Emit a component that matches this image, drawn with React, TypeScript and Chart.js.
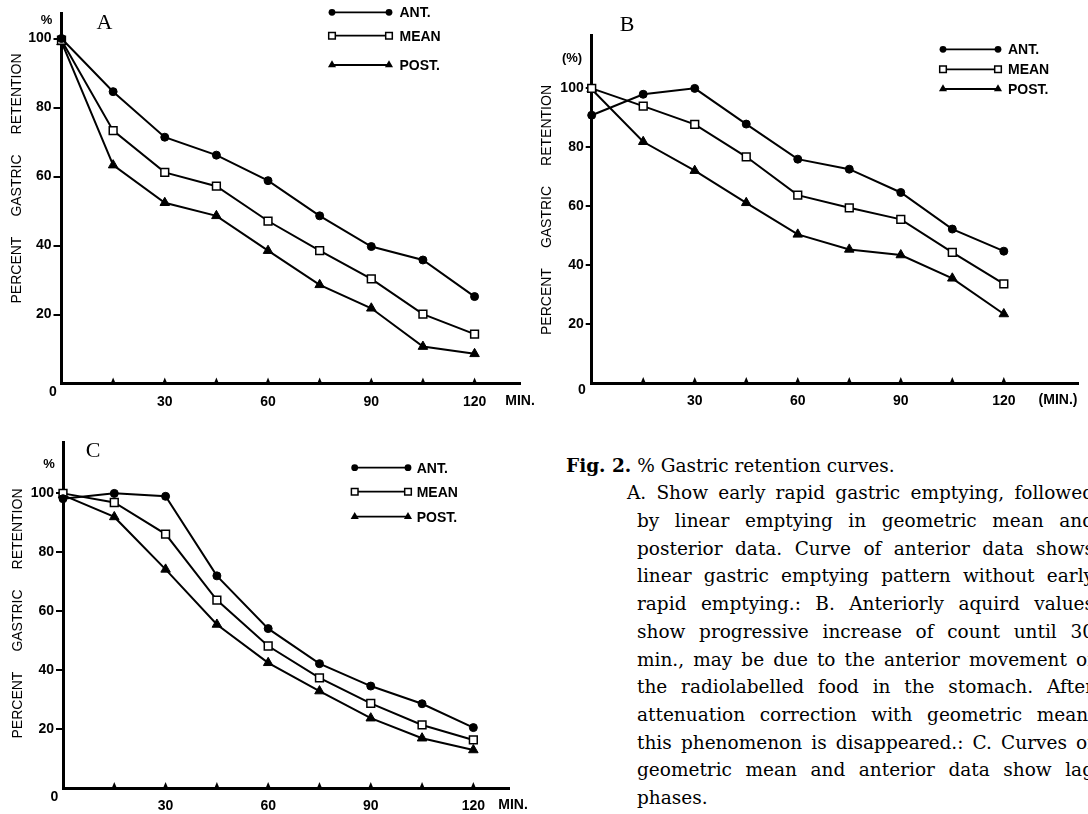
import React, { useEffect, useRef } from "react";
import { Chart, registerables } from "chart.js";

Chart.register(...registerables);

// ---------------- data ----------------
const minutes = [0, 15, 30, 45, 60, 75, 90, 105, 120];
const yTickValues = [20, 40, 60, 80, 100];
const xTickValues = [30, 60, 90, 120];
const xMinorTicks = [15, 30, 45, 60, 75, 90, 105, 120];
const seriesNames = ["ANT.", "MEAN", "POST."];

const antA = [100, 84.6, 71.4, 66.2, 58.8, 48.6, 39.7, 35.8, 25.2];
const meanA = [99.5, 73.3, 61.2, 57.2, 47.1, 38.5, 30.3, 20.1, 14.3];
const postA = [99, 63.3, 52.4, 48.6, 38.5, 28.6, 21.8, 10.7, 8.6];

const antB = [90.8, 97.9, 99.9, 87.8, 75.9, 72.5, 64.6, 52.2, 44.7];
const meanB = [99.9, 93.9, 87.7, 76.7, 63.7, 59.4, 55.5, 44.3, 33.6];
const postB = [99.6, 81.8, 72.0, 61.1, 50.4, 45.3, 43.4, 35.5, 23.4];

const antC = [98.2, 100, 99, 72, 54.1, 42.2, 34.6, 28.6, 20.5];
const meanC = [100, 96.9, 86.2, 63.8, 48.2, 37.4, 28.7, 21.4, 16.3];
const postC = [99.4, 92, 74.2, 55.5, 42.5, 32.9, 23.7, 16.9, 12.9];

const yTitleWords = ["PERCENT", "GASTRIC", "RETENTION"];

const captionHeadBold = "Fig. 2.";
const captionHead = "% Gastric retention curves.";
const captionLines = [
  "A. Show early rapid gastric emptying, followed",
  "by linear emptying in geometric mean and",
  "posterior data. Curve of anterior data shows",
  "linear gastric emptying pattern without early",
  "rapid emptying.: B. Anteriorly aquird values",
  "show progressive increase of count until 30",
  "min., may be due to the anterior movement of",
  "the radiolabelled food in the stomach. After",
  "attenuation correction with geometric mean,",
  "this phenomenon is disappeared.: C. Curves of",
  "geometric mean and anterior data show lag",
  "phases.",
];

// ---------------- styles / layout ----------------
const SANS = '"Liberation Sans", Arial, sans-serif';
const SERIF = '"Liberation Serif", "Times New Roman", serif';
const CAPTION_FONT = '"DejaVu Serif", serif';

type Pt = { x: number; y: number };
interface PanelDef {
  letter: string;
  series: number[][];
  box: { left: number; top: number; w: number; h: number };
  area: { l: number; t: number; r: number; b: number };
  xMax: number;
  yMax: number;
  tickLen: number;
  legend: { x1: number; x2: number; ys: number[]; textX: number };
  letterPos: Pt;
  pctText: string;
  pctPos: Pt;
  zeroPos: Pt;
  minText: string;
  minPos: Pt;
  title: { x: number; cy: number; gap: number };
}

const markerStyles = ["circle", "rect", "triangle"];
const markerRadius = [4, 5.5, 5.5];
const markerFill = ["#000", "#fff", "#000"];

const panels: PanelDef[] = [
  {
    letter: "A",
    series: [antA, meanA, postA],
    box: { left: 0, top: 0, w: 540, h: 410 },
    area: { l: 61.5, t: 13, r: 520, b: 383.5 },
    xMax: 133.2,
    yMax: 107.4,
    tickLen: 8,
    legend: { x1: 332, x2: 389, ys: [12.3, 35.7, 65], textX: 399.5 },
    letterPos: { x: 104.5, y: 23.5 },
    pctText: "%",
    pctPos: { x: 46.5, y: 20 },
    zeroPos: { x: 53, y: 392 },
    minText: "MIN.",
    minPos: { x: 520, y: 401 },
    title: { x: 16.7, cy: 178.5, gap: 20 },
  },
  {
    letter: "B",
    series: [antB, meanB, postB],
    box: { left: 540, top: 0, w: 548, h: 410 },
    area: { l: 591.7, t: 35, r: 1078, b: 383 },
    xMax: 141.6,
    yMax: 118,
    tickLen: 6,
    legend: { x1: 943, x2: 998, ys: [49.3, 69.3, 89], textX: 1008 },
    letterPos: { x: 627, y: 25.5 },
    pctText: "(%)",
    pctPos: { x: 572, y: 58 },
    zeroPos: { x: 582, y: 390 },
    minText: "(MIN.)",
    minPos: { x: 1058, y: 400 },
    title: { x: 547, cy: 210, gap: 20 },
  },
  {
    letter: "C",
    series: [antC, meanC, postC],
    box: { left: 0, top: 410, w: 540, h: 404 },
    area: { l: 63, t: 442.7, r: 509.6, b: 788 },
    xMax: 130.6,
    yMax: 117.2,
    tickLen: 7,
    legend: { x1: 354.7, x2: 408, ys: [467.7, 491.7, 516.7], textX: 416.7 },
    letterPos: { x: 93, y: 451.7 },
    pctText: "%",
    pctPos: { x: 49, y: 464 },
    zeroPos: { x: 54.5, y: 796.7 },
    minText: "MIN.",
    minPos: { x: 513, y: 805 },
    title: { x: 18, cy: 613.5, gap: 20 },
  },
];

function drawMarker(ctx: CanvasRenderingContext2D, idx: number, x: number, y: number, r: number) {
  const style = markerStyles[idx];
  ctx.save();
  ctx.beginPath();
  if (style === "circle") {
    ctx.arc(x, y, r, 0, Math.PI * 2);
    ctx.fillStyle = markerFill[idx];
    ctx.fill();
  } else if (style === "rect") {
    const s = r * Math.SQRT1_2;
    ctx.rect(x - s, y - s, 2 * s, 2 * s);
    ctx.fillStyle = markerFill[idx];
    ctx.fill();
    ctx.lineWidth = 1.5;
    ctx.strokeStyle = "#000";
    ctx.stroke();
  } else {
    ctx.moveTo(x, y - r);
    ctx.lineTo(x + r * 0.866, y + r * 0.5);
    ctx.lineTo(x - r * 0.866, y + r * 0.5);
    ctx.closePath();
    ctx.fillStyle = markerFill[idx];
    ctx.fill();
  }
  ctx.restore();
}

function makeDecor(p: PanelDef) {
  return {
    id: "decor" + p.letter,
    afterDraw(chart: any) {
      const ctx: CanvasRenderingContext2D = chart.ctx;
      const ox = p.box.left;
      const oy = p.box.top;
      const xs = chart.scales.x;
      const area = chart.chartArea;
      ctx.save();
      ctx.fillStyle = "#000";
      ctx.strokeStyle = "#000";

      // upward tick marks on the time axis
      for (const m of xMinorTicks) {
        const px = xs.getPixelForValue(m);
        ctx.beginPath();
        ctx.moveTo(px - 2.5, area.bottom);
        ctx.lineTo(px, area.bottom - 6);
        ctx.lineTo(px + 2.5, area.bottom);
        ctx.closePath();
        ctx.fill();
      }

      // legend
      ctx.font = `bold 14px ${SANS}`;
      ctx.textAlign = "left";
      ctx.textBaseline = "middle";
      p.legend.ys.forEach((yy, i) => {
        const y = yy - oy;
        const x1 = p.legend.x1 - ox;
        const x2 = p.legend.x2 - ox;
        ctx.beginPath();
        ctx.lineWidth = 1.8;
        ctx.moveTo(x1, y);
        ctx.lineTo(x2, y);
        ctx.stroke();
        drawMarker(ctx, i, x1, y, markerRadius[i] * 0.85);
        drawMarker(ctx, i, x2, y, markerRadius[i] * 0.85);
        ctx.fillStyle = "#000";
        ctx.fillText(seriesNames[i], p.legend.textX - ox, y + 1);
      });

      // panel letter
      ctx.font = `22px ${SERIF}`;
      ctx.textAlign = "center";
      ctx.textBaseline = "middle";
      ctx.fillText(p.letter, p.letterPos.x - ox, p.letterPos.y - oy);

      // percent sign, origin and unit
      ctx.font = `bold 13px ${SANS}`;
      ctx.fillText(p.pctText, p.pctPos.x - ox, p.pctPos.y - oy);
      ctx.font = `bold 14px ${SANS}`;
      ctx.fillText("0", p.zeroPos.x - ox, p.zeroPos.y - oy);
      ctx.fillText(p.minText, p.minPos.x - ox, p.minPos.y - oy);

      // vertical axis title
      ctx.font = `14px ${SANS}`;
      const widths = yTitleWords.map((w) => ctx.measureText(w).width);
      const total = widths.reduce((a, b) => a + b, 0) + p.title.gap * (yTitleWords.length - 1);
      ctx.translate(p.title.x - ox, p.title.cy - oy);
      ctx.rotate(-Math.PI / 2);
      ctx.textAlign = "left";
      let cx = -total / 2;
      yTitleWords.forEach((w, i) => {
        ctx.fillText(w, cx, 0);
        cx += widths[i] + p.title.gap;
      });
      ctx.restore();
    },
  };
}

function buildConfig(p: PanelDef): any {
  const datasets = p.series.map((vals, i) => ({
    label: seriesNames[i],
    data: minutes.map((m, j) => ({ x: m, y: vals[j] })),
    borderColor: "#000",
    backgroundColor: markerFill[i],
    borderWidth: 2,
    tension: 0,
    fill: false,
    clip: false,
    pointStyle: markerStyles[i],
    pointRadius: markerRadius[i],
    pointBackgroundColor: markerFill[i],
    pointBorderColor: "#000",
    pointBorderWidth: i === 1 ? 1.5 : 1,
  }));
  const tickFont = { family: SANS, size: 14, weight: "bold" };
  const yAxisWidth = p.area.l - p.box.left;
  const xAxisHeight = p.box.top + p.box.h - p.area.b;
  return {
    type: "line",
    data: { datasets },
    options: {
      responsive: false,
      animation: false,
      devicePixelRatio: 1,
      events: [],
      layout: {
        padding: {
          left: 0,
          top: p.area.t - p.box.top,
          right: p.box.left + p.box.w - p.area.r,
          bottom: 0,
        },
      },
      plugins: { legend: { display: false }, tooltip: { enabled: false }, title: { display: false } },
      scales: {
        x: {
          type: "linear",
          min: 0,
          max: p.xMax,
          afterFit: (s: any) => {
            s.height = xAxisHeight;
          },
          afterBuildTicks: (s: any) => {
            s.ticks = xTickValues.map((v) => ({ value: v }));
          },
          grid: { display: false, drawOnChartArea: false, drawTicks: false },
          border: { display: true, width: 3, color: "#000" },
          ticks: { font: tickFont, color: "#000", padding: 10, maxRotation: 0, autoSkip: false },
        },
        y: {
          type: "linear",
          min: 0,
          max: p.yMax,
          afterFit: (s: any) => {
            s.width = yAxisWidth;
          },
          afterBuildTicks: (s: any) => {
            s.ticks = yTickValues.map((v) => ({ value: v }));
          },
          grid: { drawOnChartArea: false, drawTicks: true, tickLength: p.tickLen, color: "#000", lineWidth: 2 },
          border: { display: true, width: 3, color: "#000" },
          ticks: { font: tickFont, color: "#000", padding: 2, autoSkip: false },
        },
      },
    },
    plugins: [makeDecor(p)],
  };
}

function PanelChart({ p }: { p: PanelDef }) {
  const ref = useRef<HTMLCanvasElement>(null);
  useEffect(() => {
    const chart = new Chart(ref.current as HTMLCanvasElement, buildConfig(p));
    return () => chart.destroy();
  }, [p]);
  return (
    <canvas
      ref={ref}
      width={p.box.w}
      height={p.box.h}
      style={{ position: "absolute", left: p.box.left, top: p.box.top, width: p.box.w, height: p.box.h }}
    />
  );
}

const CAP_TOP = 451.6;
const CAP_LH = 27.7;
const CAP_RIGHT = 1094;
const CAP_SIZE = 18.5;

function Caption() {
  return (
    <>
      <div
        style={{
          position: "absolute",
          left: 566,
          top: CAP_TOP,
          lineHeight: `${CAP_LH}px`,
          fontFamily: CAPTION_FONT,
          fontSize: CAP_SIZE,
          whiteSpace: "nowrap",
          color: "#000",
        }}
      >
        <b>{captionHeadBold}</b> {captionHead}
      </div>
      {captionLines.map((line, i) => {
        const left = i === 0 ? 627 : 637;
        const last = i === captionLines.length - 1;
        return (
          <div
            key={i}
            style={{
              position: "absolute",
              left,
              top: CAP_TOP + (i + 1) * CAP_LH,
              width: CAP_RIGHT - left,
              lineHeight: `${CAP_LH}px`,
              fontFamily: CAPTION_FONT,
              fontSize: CAP_SIZE,
              textAlign: "justify",
              textAlignLast: last ? "left" : "justify",
              color: "#000",
            }}
          >
            {line}
          </div>
        );
      })}
    </>
  );
}

export default function App() {
  return (
    <div
      style={{
        position: "absolute",
        left: 0,
        top: 0,
        width: 1088,
        height: 814,
        overflow: "hidden",
        background: "#fff",
      }}
    >
      {panels.map((p) => (
        <PanelChart key={p.letter} p={p} />
      ))}
      <Caption />
    </div>
  );
}
